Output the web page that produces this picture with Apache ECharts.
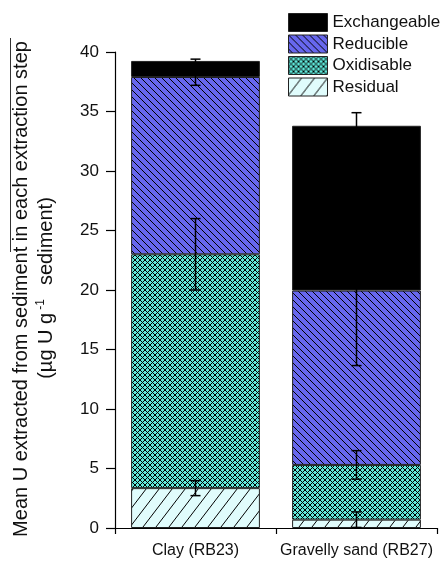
<!DOCTYPE html>
<html>
<head>
<meta charset="utf-8">
<script src="https://cdn.jsdelivr.net/npm/echarts@6/dist/echarts.min.js"></script>
<style>html,body{margin:0;padding:0;background:#fff;}#c{width:442px;height:561px;}</style>
</head>
<body>
<div id="c"></div>
<script>
var categories = ['Clay (RB23)', 'Gravelly sand (RB27)'];
var residual = [3.35, 0.7];
var oxidisable = [19.65, 4.6];
var reducible = [14.9, 14.65];
var exchangeable = [1.35, 13.85];
var residualErr = [0.63, 0.65];
var oxidisableErr = [3.0, 1.2];
var reducibleErr = [0.7, 6.3];
var exchangeableErr = [0.15, 1.1];
var yTicks = [0, 5, 10, 15, 20, 25, 30, 35, 40];

var FONT = "'Liberation Sans', Arial, sans-serif";

function makeTile(w, h, bg, draw) {
  var c = document.createElement('canvas');
  c.width = w; c.height = h;
  var ctx = c.getContext('2d');
  ctx.fillStyle = bg; ctx.fillRect(0, 0, w, h);
  ctx.strokeStyle = '#000';
  ctx.lineWidth = 1;
  draw(ctx, w, h);
  return c;
}
function backLines(ctx, w, h) { // "\"
  for (var k = -1; k <= 1; k++) {
    ctx.beginPath(); ctx.moveTo(k * w, 0); ctx.lineTo(k * w + w, h); ctx.stroke();
  }
}
function fwdLines(ctx, w, h) { // "/"
  for (var k = -1; k <= 1; k++) {
    ctx.beginPath(); ctx.moveTo(k * w, h); ctx.lineTo(k * w + w, 0); ctx.stroke();
  }
}
var reducibleFill = { image: makeTile(7, 7, '#6767ee', backLines), repeat: 'repeat' };
var oxidisableFill = { image: makeTile(5, 5, '#60e8da', function (ctx, w, h) { backLines(ctx, w, h); fwdLines(ctx, w, h); }), repeat: 'repeat' };
var residualFill = { image: makeTile(13, 17, '#e0fcfc', fwdLines), repeat: 'repeat' };

function cum(arrs) {
  return categories.map(function (_, i) {
    var s = 0; arrs.forEach(function (a) { s += a[i]; }); return s;
  });
}
var topRes = cum([residual]);
var topOx = cum([residual, oxidisable]);
var topRed = cum([residual, oxidisable, reducible]);
var topEx = cum([residual, oxidisable, reducible, exchangeable]);

var errData = [];
[[topRes, residualErr], [topOx, oxidisableErr], [topRed, reducibleErr], [topEx, exchangeableErr]].forEach(function (p) {
  categories.forEach(function (_, i) { errData.push([i, p[0][i], p[1][i]]); });
});

function barSeries(name, data, fill) {
  return {
    name: name, type: 'bar', stack: 'total', data: data, barWidth: '80%',
    itemStyle: { color: fill, borderColor: '#222', borderWidth: 1 },
    emphasis: { disabled: true }, animation: false
  };
}

var chart = echarts.init(document.getElementById('c'));
chart.setOption({
  animation: false,
  grid: { left: 115, right: 5, top: 52, bottom: 33 },
  legend: {
    orient: 'vertical', left: 288, top: 13, padding: 0, itemWidth: 39, itemHeight: 18, itemGap: 2.5,
    icon: 'rect', selectedMode: false,
    textStyle: { fontFamily: FONT, fontSize: 17, color: '#111' },
    itemStyle: { borderColor: '#222', borderWidth: 1 },
    data: ['Exchangeable', 'Reducible', 'Oxidisable', 'Residual']
  },
  xAxis: [{
    type: 'category', data: categories,
    axisLine: { lineStyle: { color: '#000', width: 1.2 } },
    axisTick: { alignWithLabel: true, length: 10, lineStyle: { color: '#000', width: 1.2 } },
    axisLabel: { fontFamily: FONT, fontSize: 16, color: '#111', margin: 15, interval: 0 }
  }, {
    type: 'value', min: 0, max: 2, interval: 1, position: 'bottom',
    axisLine: { show: false }, splitLine: { show: false },
    axisTick: { show: true, length: 6, lineStyle: { color: '#000', width: 1.2 } },
    axisLabel: { show: false }
  }],
  yAxis: {
    type: 'value', min: yTicks[0], max: yTicks[yTicks.length - 1], interval: 5,
    axisLine: { show: true, lineStyle: { color: '#000', width: 1.2 } },
    axisTick: { show: true, length: 9, lineStyle: { color: '#000', width: 1.2 } },
    splitLine: { show: false },
    axisLabel: { fontFamily: FONT, fontSize: 17, color: '#111', margin: 16 }
  },
  graphic: [{
    type: 'text', x: 21, y: 289, rotation: Math.PI / 2,
    style: { text: 'Mean U extracted from sediment in each extraction step', font: '20px ' + FONT, fill: '#111', align: 'center', verticalAlign: 'middle' }
  }, {
    type: 'line', shape: { x1: 10.5, y1: 38, x2: 10.5, y2: 252 },
    style: { stroke: '#333', lineWidth: 1 }
  }, {
    type: 'text', x: 46, y: 288, rotation: Math.PI / 2,
    style: {
      text: '{n|(µg U g}{s|-1}{n|  sediment)}', align: 'center', verticalAlign: 'middle',
      rich: {
        n: { font: '20px ' + FONT, fill: '#111' },
        s: { font: '12px ' + FONT, fill: '#111', padding: [0, 3, 11, 3] }
      }
    }
  }],
  series: [
    barSeries('Residual', residual, residualFill),
    barSeries('Oxidisable', oxidisable, oxidisableFill),
    barSeries('Reducible', reducible, reducibleFill),
    barSeries('Exchangeable', exchangeable, '#000'),
    {
      type: 'custom', name: 'err', data: errData, z: 10, silent: true,
      renderItem: function (params, api) {
        var x = api.value(0), y = api.value(1), e = api.value(2);
        var hi = api.coord([x, y + e]), lo = api.coord([x, y - e]);
        var hw = 5;
        var st = { stroke: '#000', lineWidth: 1.5 };
        return {
          type: 'group', children: [
            { type: 'line', shape: { x1: hi[0], y1: hi[1], x2: lo[0], y2: lo[1] }, style: st },
            { type: 'line', shape: { x1: hi[0] - hw, y1: hi[1], x2: hi[0] + hw, y2: hi[1] }, style: st },
            { type: 'line', shape: { x1: lo[0] - hw, y1: lo[1], x2: lo[0] + hw, y2: lo[1] }, style: st }
          ]
        };
      }
    }
  ]
});
</script>
</body>
</html>
